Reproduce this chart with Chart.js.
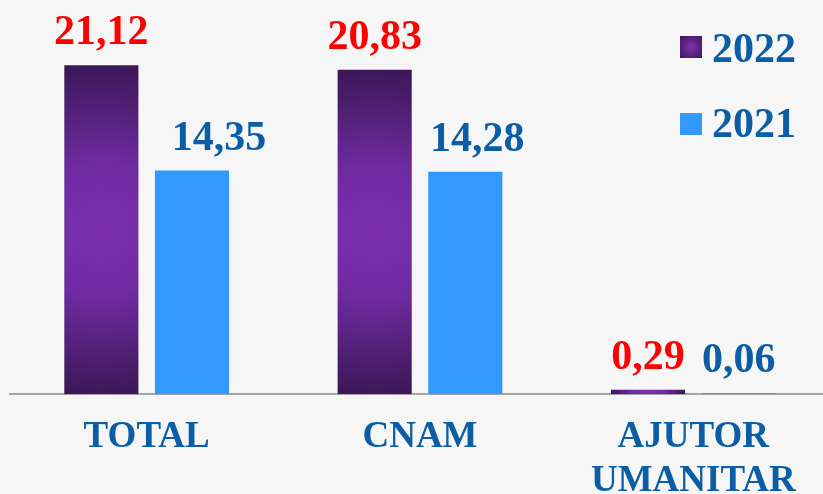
<!DOCTYPE html>
<html>
<head>
<meta charset="utf-8">
<script src="https://cdn.jsdelivr.net/npm/chart.js@4/dist/chart.umd.min.js"></script>
<style>
  body { margin: 0; overflow: hidden; background: #F6F6F6; }
  #wrap { position: relative; width: 830px; height: 525px; }
  .leg { position: absolute; left: 680px; font: bold 42px/42px "Liberation Serif", "Times New Roman", serif; color: #0B5EA5; }
  .leg i { position: absolute; left: 0; width: 22px; height: 22px; }
  .leg span { position: absolute; left: 32px; top: 0; }
</style>
</head>
<body>
<div id="wrap">
  <canvas id="chart" width="830" height="525"></canvas>
  <div class="leg" style="top:27px"><i style="top:9px;background:radial-gradient(circle,#7C30B0,#3C1858)"></i><span>2022</span></div>
  <div class="leg" style="top:102px"><i style="top:11px;background:#3399FF"></i><span>2021</span></div>
</div>
<script>
const categories = ['TOTAL', 'CNAM', ['AJUTOR', 'UMANITAR']];
const values2022 = [21.12, 20.83, 0.29];
const values2021 = [14.35, 14.28, 0.06];

const BLUE_TEXT = '#0B5EA5';
const CAT_PCT = 0.663;
const BAR_PCT = 0.818;

function purpleFill(ctx) {
  const chart = ctx.chart;
  const x = chart.scales.x, y = chart.scales.y;
  if (ctx.type !== 'data' || !x || !y) return '#5A2486';
  const i = ctx.dataIndex;
  const slot = (x.getPixelForValue(1) - x.getPixelForValue(0)) * CAT_PCT / 2;
  const cx = x.getPixelForValue(i) - slot / 2;
  const top = y.getPixelForValue(ctx.raw);
  const bot = y.getPixelForValue(0);
  const cy = (top + bot) / 2;
  const r = Math.max((bot - top) / 2, slot * BAR_PCT / 2, 1);
  if (![cx, cy, r].every(Number.isFinite)) return '#5A2486';
  const g = chart.ctx.createRadialGradient(cx, cy, 0, cx, cy, r);
  g.addColorStop(0, '#7C30B0');
  g.addColorStop(0.4, '#702BA2');
  g.addColorStop(1, '#3C1858');
  return g;
}

const valueLabels = {
  id: 'valueLabels',
  afterDatasetsDraw(chart) {
    const c = chart.ctx;
    chart.data.datasets.forEach((ds, di) => {
      chart.getDatasetMeta(di).data.forEach((bar, i) => {
        c.save();
        c.font = 'bold 42px "Liberation Serif", "Times New Roman", serif';
        c.fillStyle = ds.labelColor;
        c.textAlign = 'center';
        c.textBaseline = 'alphabetic';
        const dx = ds.labelShift ? ds.labelShift[i] : 0;
        c.fillText(ds.data[i].toFixed(2).replace('.', ','), bar.x + dx, bar.y - 21);
        c.restore();
      });
    });
  }
};

new Chart(document.getElementById('chart'), {
  type: 'bar',
  data: {
    labels: categories,
    datasets: [{
      label: '2022',
      data: values2022,
      backgroundColor: purpleFill,
      labelColor: '#FF0000'
    }, {
      label: '2021',
      data: values2021,
      backgroundColor: '#3399FF',
      labelColor: BLUE_TEXT,
      labelShift: [27, 12, 0]
    }]
  },
  options: {
    responsive: false,
    animation: false,
    categoryPercentage: CAT_PCT,
    barPercentage: BAR_PCT,
    layout: { padding: { left: 10, top: 0, right: 0, bottom: 0 } },
    plugins: { legend: { display: false }, tooltip: { enabled: false } },
    scales: {
      x: {
        grid: { display: false, drawTicks: false },
        border: { color: '#A6A6A6', width: 2 },
        ticks: {
          color: BLUE_TEXT,
          padding: 21,
          maxRotation: 0,
          autoSkip: false,
          font: { family: '"Liberation Serif", "Times New Roman", serif', weight: 'bold', size: 37, lineHeight: 1.2 }
        }
      },
      y: { display: false, min: 0, max: 25.3 }
    }
  },
  plugins: [valueLabels]
});
</script>
</body>
</html>
